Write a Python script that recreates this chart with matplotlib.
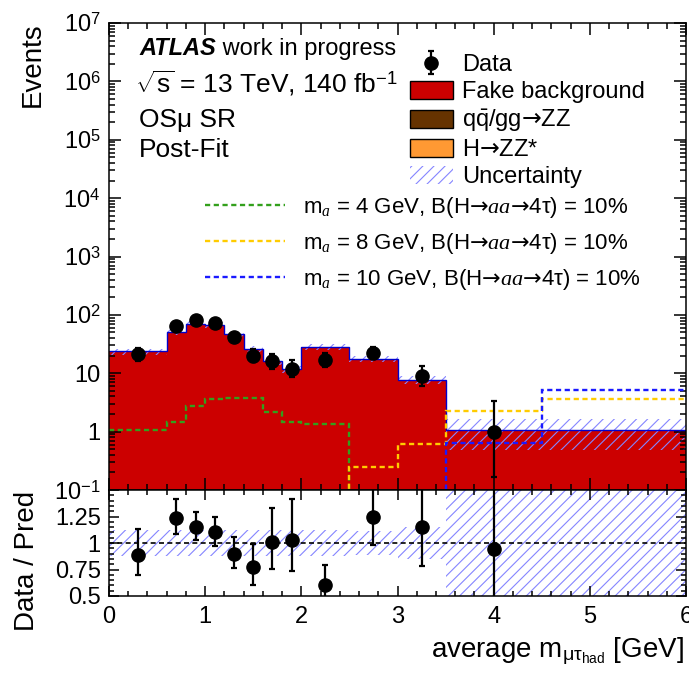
import numpy as np
import matplotlib
matplotlib.use('Agg')
import matplotlib.pyplot as plt
from matplotlib.patches import Patch
from matplotlib.lines import Line2D
from matplotlib.ticker import FixedLocator, MultipleLocator, LogLocator, FixedFormatter, NullFormatter

plt.rcParams['font.family'] = ['Liberation Sans', 'DejaVu Sans']
plt.rcParams['mathtext.fontset'] = 'custom'
plt.rcParams['mathtext.rm'] = 'Liberation Sans'
plt.rcParams['mathtext.sf'] = 'DejaVu Sans'
plt.rcParams['mathtext.it'] = 'Liberation Serif:italic'
plt.rcParams['mathtext.bf'] = 'Liberation Sans:bold'
plt.rcParams['hatch.linewidth'] = 0.8
plt.rcParams['axes.linewidth'] = 1.1

# --- binning: average m_{mu tau_had} [GeV] ---
edges = np.array([0.0, 0.6, 0.8, 1.0, 1.2, 1.4, 1.6, 1.8, 2.0, 2.5, 3.0, 3.5, 4.5, 6.0])
centres = 0.5 * (edges[1:] + edges[:-1])

# post-fit fake background (dominant, the ZZ backgrounds are invisible on this scale)
bkg_fake = np.array([23.6, 51.6, 70.2, 67.3, 46.7, 25.9, 15.9, 11.7, 28.0, 17.7, 7.8, 1.06, 1.06])
unc_rel = np.array([0.12, 0.12, 0.12, 0.12, 0.12, 0.12, 0.12, 0.12, 0.12, 0.11, 0.15, 0.55, 0.55])

# observed data with asymmetric (Poisson) errors
data = np.array([21, 64, 81, 74, 42, 20, 16, 12, 17, 22, 9, 1, 0])
data_up = np.array([5.7, 9.0, 10.0, 9.6, 7.5, 5.6, 5.1, 4.6, 5.2, 5.8, 4.1, 2.3, 0.0])
data_dn = np.array([4.6, 8.0, 9.0, 8.6, 6.5, 4.4, 4.0, 3.4, 4.1, 4.7, 2.9, 0.83, 0.0])

# signal hypotheses, B(H->aa->4tau) = 10%
sig_ma4 = np.array([1.06, 1.44, 2.74, 3.6, 3.7, 3.7, 2.17, 1.48, 1.35, 0, 0, 0, 0])
sig_ma8 = np.array([0, 0, 0, 0, 0, 0, 0, 0, 0, 0.25, 0.62, 2.28, 3.6])
sig_ma10 = np.array([0, 0, 0, 0, 0, 0, 0, 0, 0, 0, 0, 0.645, 5.2])

ARROW = r'$\mathsf{→}$'
signals = [
    (sig_ma4, '#33a01c', r'm$_{\mathit{a}}$ = 4 GeV, B(H' + ARROW + r'$\mathit{aa}$' + ARROW + '4τ) = 10%'),
    (sig_ma8, '#ffcc00', r'm$_{\mathit{a}}$ = 8 GeV, B(H' + ARROW + r'$\mathit{aa}$' + ARROW + '4τ) = 10%'),
    (sig_ma10, '#1a1aff', r'm$_{\mathit{a}}$ = 10 GeV, B(H' + ARROW + r'$\mathit{aa}$' + ARROW + '4τ) = 10%'),
]

RED = '#cc0000'
HATCH = '#8585ff'
SIG_LS = (0, (2.2, 1.5))
W, H = 689, 678

fig = plt.figure(figsize=(W / 100, H / 100), dpi=100)
ax = fig.add_axes([109 / W, 1 - 490 / H, 577 / W, 467 / H])
axr = fig.add_axes([109 / W, 1 - 596 / H, 577 / W, 106 / H], sharex=ax)

# ---------------- main panel ----------------
ax.set_yscale('log')
ax.stairs(bkg_fake, edges, baseline=1e-3, fill=True, color=RED, lw=0, zorder=1)
band = ax.stairs(bkg_fake * (1 + unc_rel), edges, baseline=bkg_fake * (1 - unc_rel),
                 fill=True, hatch='///', lw=0, zorder=1.5)
band.set_facecolor('none')
band.set_edgecolor(HATCH)
ax.stairs(bkg_fake, edges, baseline=None, color='#0000cc', lw=1.0, zorder=2)

for vals, col, _ in signals:
    ax.stairs(np.where(vals > 0, vals, 1e-3), edges, baseline=None, color=col,
              lw=1.7, ls=SIG_LS, zorder=2.2)

has = data > 0
eb = ax.errorbar(centres[has], data[has], yerr=[data_dn[has], data_up[has]], fmt='o',
                 color='black', ms=9.5, elinewidth=1.6, capsize=2, capthick=1.6, zorder=3)

ax.set_xlim(0, 6)
ax.set_ylim(0.1, 1e7)
decades = np.arange(-1, 8)
def dec_label(n):
    if n == 0:
        return '1'
    if n == 1:
        return '10'
    return r'$10^{%d}$' % n
ax.yaxis.set_major_locator(FixedLocator(10.0 ** decades))
ax.yaxis.set_major_formatter(FixedFormatter([dec_label(n) for n in decades]))
ax.yaxis.set_minor_locator(LogLocator(base=10, subs=np.arange(2, 10), numticks=20))
ax.yaxis.set_minor_formatter(NullFormatter())
ax.xaxis.set_major_locator(MultipleLocator(1))
ax.xaxis.set_minor_locator(MultipleLocator(0.2))
ax.tick_params(which='both', direction='in', top=True, right=True, labelbottom=False,
               labelsize=17, width=1.1, pad=6)
ax.tick_params(which='major', length=8.5)
ax.tick_params(which='minor', length=4.3)

# ---------------- ratio panel ----------------
ratio = data / bkg_fake
axr.stairs(1 + unc_rel, edges, baseline=1 - unc_rel, fill=True, hatch='///', lw=0,
           zorder=1).set(facecolor='none', edgecolor=HATCH)
axr.axhline(1, color='black', lw=1.2, ls=(0, (3, 2)), zorder=2)
axr.errorbar(centres[has], ratio[has], yerr=[(data_dn / bkg_fake)[has], (data_up / bkg_fake)[has]],
             fmt='o', color='black', ms=9.5, elinewidth=1.6, capsize=2, capthick=1.6, zorder=3)
axr.set_ylim(0.5, 1.5)
axr.yaxis.set_major_locator(FixedLocator([0.5, 0.75, 1.0, 1.25, 1.5]))
axr.yaxis.set_major_formatter(FixedFormatter(['0.5', '0.75', '1', '1.25', '']))
axr.yaxis.set_minor_locator(MultipleLocator(0.05))
axr.tick_params(which='both', direction='in', top=True, right=True, labelsize=17,
                width=1.1, pad=6)
axr.tick_params(which='major', length=7)
axr.tick_params(which='minor', length=3.6)
axr.tick_params(axis='x', pad=7)

# ---------------- labels ----------------
fig.text(33 / W, 1 - 22 / H, 'Events', rotation=90, ha='center', va='top', fontsize=20)
fig.text(27 / W, 1 - 561 / H, 'Data / Pred', rotation=90, ha='center', va='center', fontsize=20)
fig.text(684 / W, 1 - 657 / H, r'average m$_{\mathrm{μτ}_{\mathrm{had}}}$ [GeV]',
         ha='right', va='baseline', fontsize=20)

atl = fig.text(139 / W, 1 - 55 / H, 'ATLAS', fontsize=17, fontweight='bold',
               fontstyle='italic', va='baseline')
ax.annotate(' work in progress', xy=(1, 0), xycoords=atl, va='bottom', fontsize=17)
fig.text(135 / W, 1 - 92 / H, r'$\sqrt{\mathrm{s}}$ = 13 TeV, 140 fb$^{\mathrm{-1}}$',
         fontsize=19, va='baseline')
fig.text(139 / W, 1 - 127 / H, 'OSμ SR', fontsize=19, va='baseline')
fig.text(139 / W, 1 - 157 / H, 'Post-Fit', fontsize=19, va='baseline')

# ---------------- legends ----------------
h_bkg = [
    eb,
    Patch(facecolor=RED, edgecolor='black', lw=1),
    Patch(facecolor='#663300', edgecolor='black', lw=1),
    Patch(facecolor='#ff9933', edgecolor='black', lw=1),
    Patch(facecolor='none', edgecolor=HATCH, hatch='///', lw=0),
]
l_bkg = ['Data', 'Fake background', r'q$\mathrm{\bar{q}}$/gg' + ARROW + 'ZZ', 'H' + ARROW + 'ZZ*',
         'Uncertainty']
fig.legend(h_bkg, l_bkg, loc='upper left', bbox_to_anchor=(410 / W, 1 - 54 / H),
           frameon=False, fontsize=17, borderpad=0, borderaxespad=0,
           handlelength=1.82, handleheight=0.8, handletextpad=0.38, labelspacing=0.2)

h_sig = [Line2D([], [], color=c, lw=1.7, ls=SIG_LS) for _, c, _ in signals]
fig.legend(h_sig, [s[2] for s in signals], loc='upper left',
           bbox_to_anchor=(205 / W, 1 - 195 / H), frameon=False, fontsize=16,
           borderpad=0, borderaxespad=0, handlelength=3.6, handletextpad=0.8,
           labelspacing=0.5)

fig.savefig('out.png', dpi=100)
